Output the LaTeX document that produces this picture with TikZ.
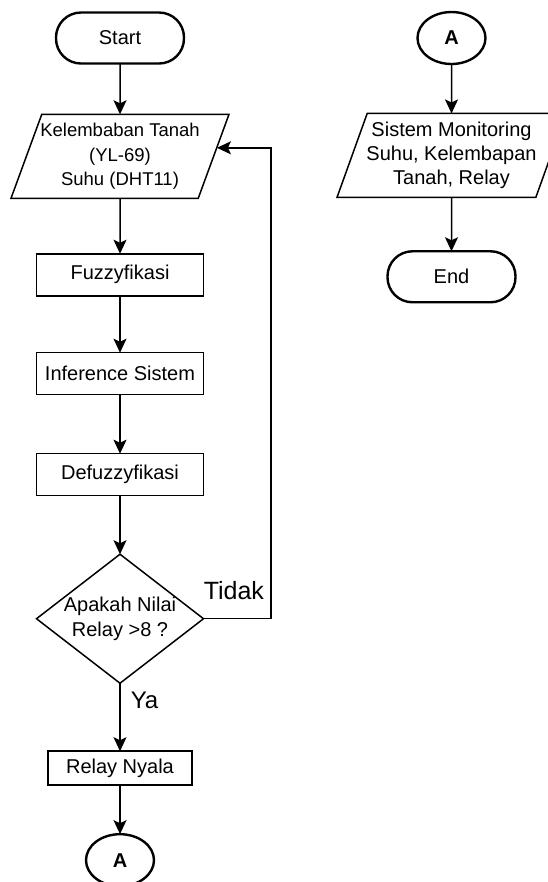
\documentclass[tikz,border=0pt]{standalone}
\usepackage{fontspec}
\setmainfont{Liberation Sans}
\usepackage{tikz}
\usetikzlibrary{matrix}
\usetikzlibrary{shapes.geometric}
\usetikzlibrary{arrows.meta}
\newcommand{\cellstack}[1]{\begin{tabular}{@{}c@{}}#1\end{tabular}}
\tikzset{
  term/.style={draw, line width=2.4pt, rounded corners=25pt, minimum width=128pt, minimum height=51pt},
  conn/.style={draw, ellipse, line width=2.4pt, minimum width=68pt, minimum height=52pt, inner sep=0pt,
    font=\fontsize{20}{24}\selectfont\bfseries},
  io/.style={draw, trapezium, trapezium left angle=69, trapezium right angle=111, trapezium stretches body,
    minimum height=84pt, inner xsep=-20pt},
  proc/.style={draw, rectangle, minimum width=167pt, minimum height=42pt},
  decision/.style={draw, diamond, aspect=1.3, minimum width=167pt, minimum height=129pt, inner sep=-10pt,
    font=\fontsize{20}{25}\selectfont},
  lbl/.style={inner sep=0pt, font=\fontsize{24}{28}\selectfont},
  flow/.style={-{Stealth[length=14pt,width=13pt,inset=3pt]}, line width=1.5pt}
}

\begin{document}
\begin{tikzpicture}[x=1pt,y=-1pt]
  \useasboundingbox (0,0) rectangle (547,882);
  \matrix (m) [matrix of nodes, matrix anchor=m-1-1.center, row sep=48pt, column sep=106.5pt,
    nodes={outer sep=0pt, line width=1.5pt, font=\fontsize{20}{24}\selectfont}] at (120,38)
  {
     |[term]| Start & |[conn]| A \\[-0.5pt]
     |[io, minimum width=218pt, font=\fontsize{18.5}{24.5}\selectfont]| \cellstack{Kelembaban Tanah\\(YL-69)\\Suhu (DHT11)}
       & |[io, minimum width=229pt]| \cellstack{Sistem Monitoring\\Suhu, Kelembapan\\Tanah, Relay} \\[3pt]
     |[proc]| Fuzzyfikasi & |[term, yshift=-4pt]| End \\[0.5pt]
     |[proc]| Inference Sistem \\[9.5pt]
     |[proc]| Defuzzyfikasi \\[9pt]
     |[decision]| \cellstack{Apakah Nilai\\Relay >8 ?} \\[18.5pt]
     |[proc, minimum width=144pt, minimum height=34pt]| Relay Nyala \\[-1pt]
     |[conn]| A \\
  };
  \path[flow]
    (m-1-1) edge (m-2-1)
    (m-2-1) edge (m-3-1)
    (m-3-1) edge (m-4-1)
    (m-4-1) edge (m-5-1)
    (m-5-1) edge (m-6-1)
    (m-6-1) edge node [lbl, right=10pt, pos=0.25] {Ya} (m-7-1)
    (m-7-1) edge (m-8-1)
    (m-1-2) edge (m-2-2)
    (m-2-2) edge (m-3-2);
  \draw[flow] (m-6-1.east) -- node [lbl, font=\fontsize{25}{30}\selectfont, above=18pt, pos=0.45] {Tidak}
    ++(67.5,0) |- ([xshift=3.3pt,yshift=8.5pt]m-2-1.east);
\end{tikzpicture}
\end{document}
